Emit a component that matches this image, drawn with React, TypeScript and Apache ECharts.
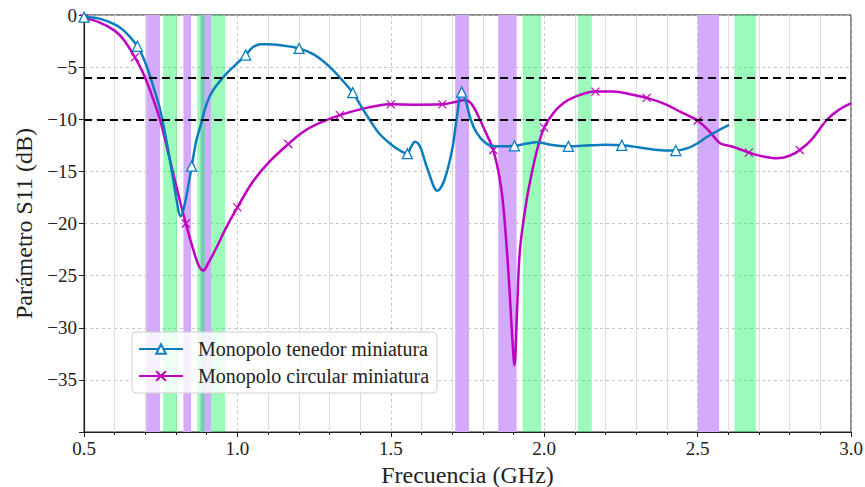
import React, { useEffect, useRef } from "react";
import * as echarts from "echarts";

// ---------- data ----------
const tenedorFreq = [
  0.5, 0.55, 0.6, 0.63, 0.674, 0.7, 0.72, 0.75, 0.78, 0.8, 0.815, 0.828, 0.851, 0.865, 0.88, 0.9, 0.921, 0.965,
  1.0, 1.027, 1.05, 1.075, 1.1, 1.14, 1.201, 1.25, 1.3, 1.34, 1.376, 1.4, 1.43, 1.46, 1.5, 1.53, 1.554, 1.565,
  1.579, 1.595, 1.62, 1.652, 1.675, 1.7, 1.715, 1.731, 1.745, 1.76, 1.78, 1.81, 1.84, 1.87, 1.903, 1.94, 1.976,
  2.02, 2.079, 2.15, 2.2, 2.253, 2.31, 2.37, 2.429, 2.47, 2.5, 2.53, 2.56, 2.603,
];
const tenedorS11 = [
  -0.2, -0.35, -0.9, -1.5, -3.0, -4.6, -6.3, -9.3, -13.9, -17.4, -19.3, -18.2, -14.5, -12.2, -10.6, -8.5, -7.2, -5.6,
  -4.6, -3.84, -3.1, -2.8, -2.8, -2.9, -3.2, -3.8, -4.95, -6.2, -7.45, -8.6, -10.0, -11.3, -12.4, -13.0, -13.3, -12.7,
  -12.15, -12.6, -14.8, -16.85, -15.8, -12.9, -9.9, -7.4, -8.3, -10.0, -11.3, -12.3, -12.6, -12.6, -12.55, -12.35, -12.2,
  -12.45, -12.6, -12.5, -12.45, -12.5, -12.7, -12.95, -13.0, -12.75, -12.3, -11.7, -11.2, -10.55,
];
const tenedorMarkerFreq = [0.5, 0.674, 0.851, 1.027, 1.201, 1.376, 1.554, 1.731, 1.903, 2.079, 2.253, 2.429];

const circularFreq = [
  0.5, 0.55, 0.6, 0.63, 0.666, 0.69, 0.715, 0.748, 0.78, 0.81, 0.832, 0.856, 0.875, 0.889, 0.905, 0.932, 0.965,
  1.0, 1.05, 1.1, 1.166, 1.22, 1.28, 1.334, 1.4, 1.465, 1.5, 1.58, 1.668, 1.71, 1.742, 1.765, 1.791, 1.81, 1.834,
  1.855, 1.867, 1.883, 1.895, 1.903, 1.912, 1.921, 1.943, 1.964, 1.98, 2.0, 2.03, 2.062, 2.1, 2.167, 2.225, 2.28,
  2.334, 2.39, 2.443, 2.5, 2.54, 2.573, 2.606, 2.64, 2.667, 2.71, 2.758, 2.8, 2.833, 2.87, 2.921, 2.96, 3.0,
];
const circularS11 = [
  -0.3, -0.7, -1.5, -2.4, -4.06, -5.4, -7.2, -10.07, -13.9, -17.5, -20.0, -22.5, -24.1, -24.5, -23.8, -22.3, -20.3,
  -18.45, -16.0, -14.2, -12.37, -11.1, -10.2, -9.6, -9.05, -8.65, -8.57, -8.6, -8.57, -8.35, -8.15, -8.6, -10.07, -11.3, -12.95,
  -15.7, -18.4, -24.5, -30.5, -33.6, -28.0, -22.5, -17.7, -14.55, -12.6, -10.8, -9.4, -8.47, -7.85, -7.35, -7.35, -7.6,
  -7.95, -8.5, -9.27, -10.14, -11.2, -12.3, -12.57, -12.9, -13.2, -13.55, -13.75, -13.5, -12.95, -12.0, -10.07, -9.1, -8.47,
];
const circularMarkerFreq = [0.5, 0.666, 0.832, 1.0, 1.166, 1.334, 1.5, 1.668, 1.834, 2.0, 2.167, 2.334, 2.5, 2.667, 2.833];

// uplink bands (purple) and downlink bands (green), GHz
const uplinkStart = [0.703, 0.824, 0.88, 1.71, 1.85, 2.5];
const uplinkEnd = [0.748, 0.849, 0.915, 1.755, 1.91, 2.57];
const downlinkStart = [0.758, 0.869, 0.915, 1.93, 2.11, 2.62];
const downlinkEnd = [0.803, 0.894, 0.96, 1.99, 2.155, 2.69];

const thresholds = [-6, -10];
const yTicks = [0, -5, -10, -15, -20, -25, -30, -35];

const seriesNames = ["Monopolo tenedor miniatura", "Monopolo circular miniatura"];

const BLUE = "#0B7DBE";
const MAGENTA = "#C000C0";
const FONT = "'Liberation Serif', 'DejaVu Serif', serif";
const X_MARK = "path://M0,0L10,10M10,0L0,10";

function buildData(freq: number[], vals: number[], markers: number[], sym: string) {
  return freq.map((f, i) => ({
    value: [f, vals[i]],
    symbol: markers.some((m) => Math.abs(m - f) < 1e-6) ? sym : "none",
  }));
}

export default function App() {
  const ref = useRef<HTMLDivElement>(null);

  useEffect(() => {
    if (!ref.current) return;
    const chart = echarts.init(ref.current, undefined, { renderer: "svg" });

    const upAreas = uplinkStart.map((s, i) => [{ xAxis: s }, { xAxis: uplinkEnd[i] }]);
    const downAreas = downlinkStart.map((s, i) => [{ xAxis: s }, { xAxis: downlinkEnd[i] }]);

    const option: any = {
      animation: false,
      backgroundColor: "#fff",
      grid: {
        left: 84,
        right: 14,
        top: 15,
        bottom: 55,
        show: true,
        borderColor: "#222",
        borderWidth: 1,
        backgroundColor: "transparent",
        containLabel: false,
        outerBoundsMode: "none",
      },
      legend: {
        data: seriesNames,
        orient: "vertical",
        left: 132,
        top: 332,
        itemWidth: 44,
        itemHeight: 12,
        itemGap: 7,
        padding: [7, 8, 7, 6],
        backgroundColor: "rgba(255,255,255,0.82)",
        borderColor: "#d0d0d0",
        borderWidth: 1,
        borderRadius: 4,
        textStyle: { fontFamily: FONT, fontSize: 20, color: "#222", padding: [0, 0, 0, 10] },
      },
      xAxis: {
        type: "value",
        min: 0.5,
        max: 3.0,
        interval: 0.5,
        name: "Frecuencia (GHz)",
        nameLocation: "middle",
        nameGap: 18,
        nameTextStyle: { fontFamily: FONT, fontSize: 24, color: "#222" },
        axisLine: { show: true, onZero: false, lineStyle: { color: "#222", width: 1.2 } },
        axisTick: { show: true, inside: false, length: 5, lineStyle: { color: "#222" } },
        minorTick: { show: true, splitNumber: 5, length: 3, lineStyle: { color: "#222" } },
        axisLabel: {
          fontFamily: FONT,
          fontSize: 19,
          color: "#222",
          margin: 7,
          formatter: (v: number) => v.toFixed(1),
        },
        splitLine: { show: true, lineStyle: { color: "#b8b8b8", width: 0.8, type: [3, 3] } },
        minorSplitLine: { show: true, lineStyle: { color: "#dcdcdc", width: 1 } },
      },
      yAxis: {
        type: "value",
        min: -40,
        max: 0,
        interval: 5,
        name: "Parámetro S11 (dB)",
        nameLocation: "middle",
        nameGap: 48,
        nameRotate: 90,
        nameTextStyle: { fontFamily: FONT, fontSize: 24, color: "#222" },
        axisLine: { show: true, onZero: false, lineStyle: { color: "#222", width: 1.2 } },
        axisTick: { show: true, inside: false, length: 5, lineStyle: { color: "#222" } },
        axisLabel: {
          fontFamily: FONT,
          fontSize: 19,
          color: "#222",
          margin: 7,
          formatter: (v: number) => (yTicks.includes(v) ? String(v).replace("-", "\u2212") : ""),
        },
        splitLine: { show: true, lineStyle: { color: "#b8b8b8", width: 0.8, type: [3, 3] } },
      },
      series: [
        {
          name: "uplink",
          type: "line",
          data: [],
          z: 1,
          silent: true,
          markArea: { silent: true, itemStyle: { color: "#D3ABFA" }, data: upAreas },
        },
        {
          name: "downlink",
          type: "line",
          data: [],
          z: 1,
          silent: true,
          markArea: { silent: true, itemStyle: { color: "rgba(0,245,80,0.39)" }, data: downAreas },
        },
        {
          name: "thresholds",
          type: "line",
          data: [],
          z: 2,
          silent: true,
          markLine: {
            silent: true,
            symbol: "none",
            label: { show: false },
            lineStyle: { color: "#000", width: 2, type: [8, 5] },
            data: thresholds.map((t) => ({ yAxis: t })),
          },
        },
        {
          name: seriesNames[0],
          type: "line",
          data: buildData(tenedorFreq, tenedorS11, tenedorMarkerFreq, "triangle"),
          symbol: "triangle",
          symbolSize: 10,
          showAllSymbol: true,
          smooth: 0.35,
          z: 4,
          lineStyle: { color: BLUE, width: 2.5 },
          itemStyle: { color: "#fff", borderColor: BLUE, borderWidth: 1.3 },
        },
        {
          name: seriesNames[1],
          type: "line",
          data: buildData(circularFreq, circularS11, circularMarkerFreq, X_MARK),
          symbol: X_MARK,
          symbolSize: 8,
          showAllSymbol: true,
          smooth: 0.35,
          z: 3,
          lineStyle: { color: MAGENTA, width: 2.5 },
          itemStyle: { color: "none", borderColor: MAGENTA, borderWidth: 1.2 },
        },
      ],
    };

    chart.setOption(option);
    return () => chart.dispose();
  }, []);

  return <div ref={ref} style={{ width: 865, height: 487, position: "absolute", left: 0, top: 0 }} />;
}
